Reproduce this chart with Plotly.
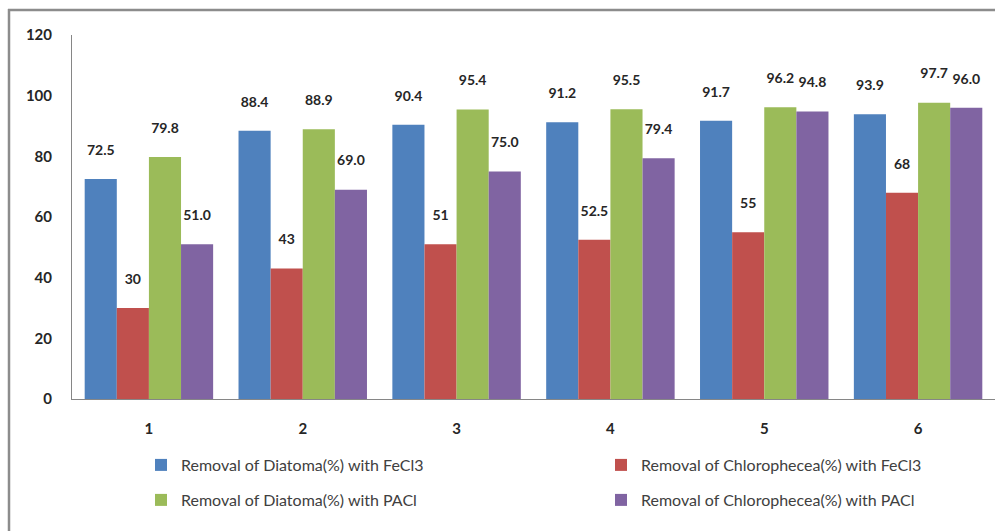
import plotly.graph_objects as go

categories = ["1", "2", "3", "4", "5", "6"]
diatoma_fecl3 = [72.5, 88.4, 90.4, 91.2, 91.7, 93.9]
chloro_fecl3 = [30, 43, 51, 52.5, 55, 68]
diatoma_pacl = [79.8, 88.9, 95.4, 95.5, 96.2, 97.7]
chloro_pacl = [51.0, 69.0, 75.0, 79.4, 94.8, 96.0]

labels_diatoma_fecl3 = ["72.5", "88.4", "90.4", "91.2", "91.7", "93.9"]
labels_chloro_fecl3 = ["30", "43", "51", "52.5", "55", "68"]
labels_diatoma_pacl = ["79.8", "88.9", "95.4", "95.5", "96.2", "97.7"]
labels_chloro_pacl = ["51.0", "69.0", "75.0", "79.4", "94.8", "96.0"]

series_names = [
    "Removal of Diatoma(%) with FeCl3",
    "Removal of Chlorophecea(%) with FeCl3",
    "Removal of Diatoma(%) with PACl",
    "Removal of Chlorophecea(%) with PACl",
]
colors = ["#4F81BD", "#C0504D", "#9BBB59", "#8064A2"]
legend_ids = ["legend", "legend2", "legend3", "legend4"]

FONT = "Lato"
W, H = 995, 531
ML, MR, MT, MB = 72, 0, 35, 132
PW = W - ML - MR
PH = H - MT - MB

fig = go.Figure()
for name, vals, labs, col, lg in zip(
    series_names,
    [diatoma_fecl3, chloro_fecl3, diatoma_pacl, chloro_pacl],
    [labels_diatoma_fecl3, labels_chloro_fecl3, labels_diatoma_pacl, labels_chloro_pacl],
    colors,
    legend_ids,
):
    fig.add_trace(
        go.Bar(
            x=categories,
            y=vals,
            name=name,
            marker=dict(color=col, line=dict(width=0)),
            text=[l + "<br> " for l in labs],
            textposition="outside",
            textfont=dict(family=FONT, size=14, color="#262626", weight="bold"),
            cliponaxis=False,
            legend=lg,
        )
    )

def px_x(px):
    return (px - ML) / PW

def px_y(py):
    return (H - MB - py) / PH

legend_pos = {"legend": (141, 465), "legend2": (601, 465),
              "legend3": (141, 500), "legend4": (601, 500)}
legend_layouts = {}
for k, (lx, ly) in legend_pos.items():
    legend_layouts[k] = dict(
        orientation="h",
        x=px_x(lx),
        xanchor="left",
        y=px_y(ly),
        yanchor="middle",
        font=dict(family=FONT, size=16, color="#404040"),
        bgcolor="rgba(0,0,0,0)",
        borderwidth=0,
        itemclick=False,
    )

fig.update_layout(
    width=W,
    height=H,
    margin=dict(l=ML, r=MR, t=MT, b=MB, pad=0),
    paper_bgcolor="white",
    plot_bgcolor="white",
    barmode="group",
    bargap=0.165,
    bargroupgap=0,
    font=dict(family=FONT, size=14, color="#404040"),
    xaxis=dict(
        showline=True,
        linecolor="#868686",
        linewidth=1,
        ticks="",
        showgrid=False,
        tickfont=dict(family=FONT, size=15, color="#262626", weight="bold"),
        ticklabelstandoff=16,
    ),
    yaxis=dict(
        range=[0, 120],
        tickvals=[0, 20, 40, 60, 80, 100, 120],
        showline=True,
        linecolor="#868686",
        linewidth=1,
        ticks="",
        showgrid=False,
        zeroline=False,
        tickfont=dict(family=FONT, size=15, color="#262626", weight="bold"),
        ticklabelstandoff=16,
    ),
    showlegend=True,
    shapes=[
        dict(type="line", xref="paper", yref="paper",
             x0=px_x(9), x1=px_x(9), y0=px_y(540), y1=px_y(9),
             line=dict(color="#8C8C8C", width=2.5)),
        dict(type="line", xref="paper", yref="paper",
             x0=px_x(8), x1=px_x(1010), y0=px_y(10), y1=px_y(10),
             line=dict(color="#8C8C8C", width=2.5)),
    ],
    **legend_layouts,
)

fig.write_html("out.html")
